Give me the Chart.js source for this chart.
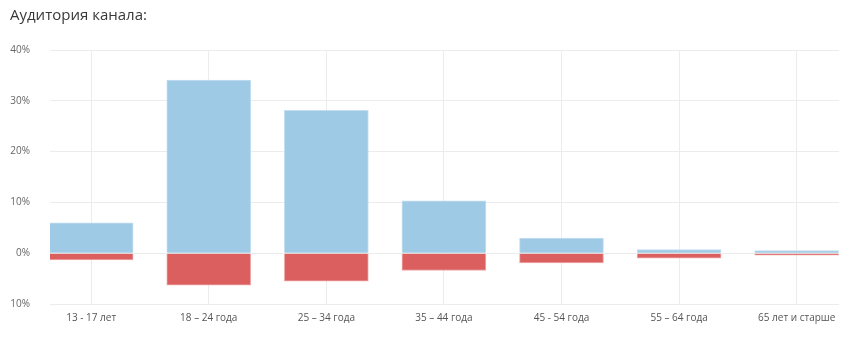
<!DOCTYPE html>
<html>
<head>
<meta charset="utf-8">
<script src="https://cdn.jsdelivr.net/npm/chart.js@4"></script>
<style>
  html, body { margin: 0; padding: 0; background: #fff; }
  #wrap { width: 849px; height: 338px; }
</style>
</head>
<body>
<div id="wrap"><canvas id="audience"></canvas></div>
<script>
  // Age groups and audience shares (%), split into two series
  const ageGroups = ['13 - 17 лет', '18 – 24 года', '25 – 34 года', '35 – 44 года', '45 - 54 года', '55 – 64 года', '65 лет и старше'];
  const upperShare = [6.0, 34.1, 28.1, 10.3, 3.0, 0.7, 0.5];
  const lowerShare = [-1.3, -6.3, -5.5, -3.4, -1.9, -1.0, -0.4];
  const yTicks = [-10, 0, 10, 20, 30, 40];

  const toPoints = (arr) => arr.map((v, i) => ({ x: i, y: v }));

  const ctx = document.getElementById('audience').getContext('2d');
  const chart = new Chart(ctx, {
    type: 'bar',
    data: {
      datasets: [{
        data: toPoints(upperShare),
        backgroundColor: '#9fcae5',
        borderColor: 'rgba(190, 220, 240, 0.9)',
        borderWidth: 1,
        barThickness: 84
      }, {
        data: toPoints(lowerShare),
        backgroundColor: '#db5f5f',
        borderColor: 'rgba(235, 150, 150, 0.8)',
        borderWidth: 1,
        barThickness: 84
      }]
    },
    options: {
      responsive: true,
      maintainAspectRatio: false,
      animation: false,
      layout: { padding: { left: 10, right: 10, top: 0, bottom: 6 } },
      plugins: {
        legend: { display: false },
        tooltip: { enabled: false },
        title: {
          display: true,
          text: 'Аудитория канала:',
          align: 'start',
          color: '#383838',
          font: { family: 'Open Sans', size: 15, weight: 'normal' },
          padding: { top: 7, bottom: 25 }
        }
      },
      scales: {
        x: {
          type: 'linear',
          stacked: true,
          offset: false,
          min: -0.35,
          max: 6.36,
          afterBuildTicks: (axis) => {
            axis.ticks = ageGroups.map((_, i) => ({ value: i }));
          },
          ticks: {
            autoSkip: false,
            maxRotation: 0,
            padding: 8,
            color: '#555',
            font: { family: 'Open Sans', size: 10 },
            callback: (v) => ageGroups[v]
          },
          grid: { color: '#ececec', drawTicks: false, offset: false },
          border: { display: false }
        },
        y: {
          stacked: true,
          min: -10,
          max: 40,
          afterBuildTicks: (axis) => {
            axis.ticks = yTicks.map(v => ({ value: v }));
          },
          afterFit: (axis) => { axis.width = 40; },
          ticks: {
            padding: 20,
            color: '#666',
            font: { family: 'Open Sans', size: 10 },
            callback: (v) => Math.abs(v) + '%'
          },
          grid: { color: '#ececec', drawTicks: false },
          border: { display: false }
        }
      }
    }
  });
</script>
</body>
</html>
